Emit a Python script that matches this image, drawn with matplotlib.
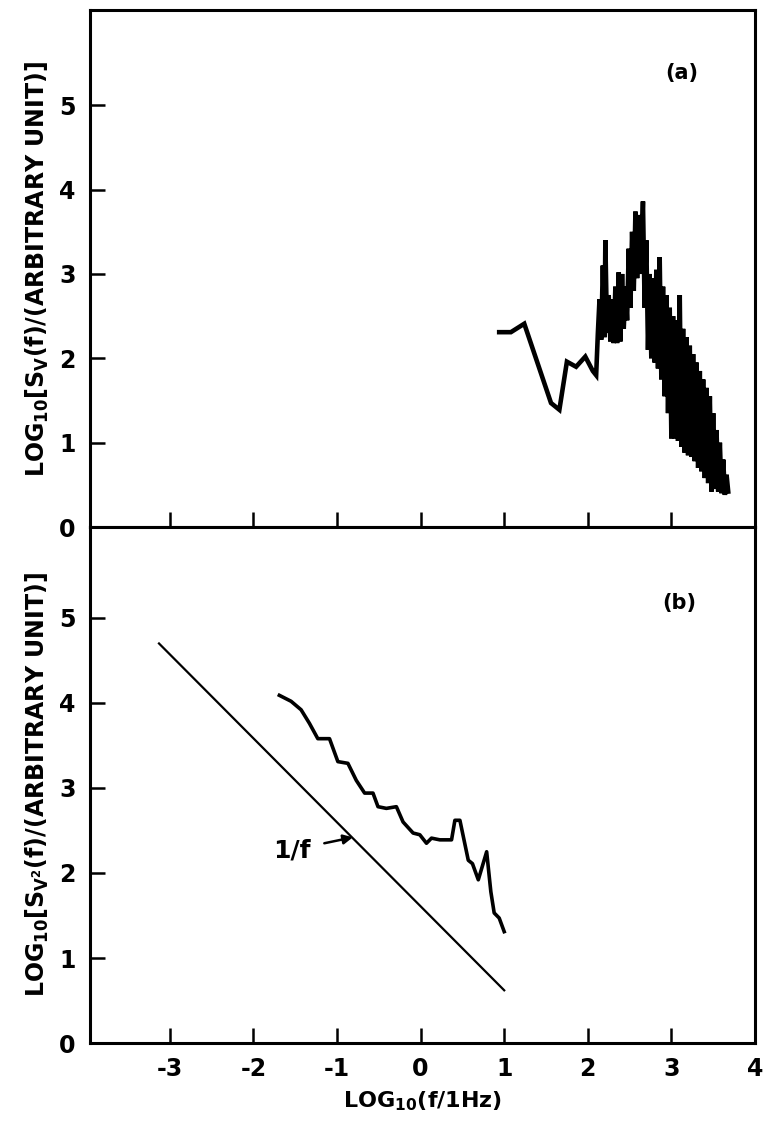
import matplotlib
matplotlib.use('Agg')
import matplotlib.pyplot as plt

# panel (a): S_V(f)
xa = [0.94, 1.08, 1.24, 1.56, 1.66, 1.75, 1.86, 1.97, 2.06, 2.10, 2.12,
      2.14, 2.16, 2.18, 2.20, 2.21, 2.23, 2.25, 2.27, 2.29, 2.31, 2.33,
      2.35, 2.37, 2.39, 2.41, 2.43, 2.45, 2.47, 2.49, 2.51, 2.53, 2.55,
      2.57, 2.59, 2.61, 2.63, 2.66, 2.68, 2.70, 2.72, 2.74, 2.76, 2.78,
      2.80, 2.82, 2.84, 2.86, 2.88, 2.90, 2.92, 2.94, 2.96, 2.98, 3.00,
      3.02, 3.04, 3.06, 3.08, 3.10, 3.12, 3.14, 3.16, 3.18, 3.20, 3.22,
      3.24, 3.26, 3.28, 3.30, 3.32, 3.34, 3.36, 3.38, 3.40, 3.42, 3.44,
      3.46, 3.48, 3.50, 3.52, 3.54, 3.56, 3.58, 3.60, 3.62, 3.64, 3.66,
      3.68]
ya = [2.31, 2.31, 2.41, 1.47, 1.39, 1.96, 1.90, 2.02, 1.85, 1.80, 2.29,
      2.70, 2.22, 3.10, 2.25, 3.40, 2.30, 2.75, 2.20, 2.70, 2.18, 2.85,
      2.18, 3.02, 2.20, 3.00, 2.35, 2.85, 2.45, 3.30, 2.60, 3.50, 2.80,
      3.74, 2.95, 3.70, 3.00, 3.86, 2.60, 3.40, 2.10, 3.00, 2.00, 2.95,
      1.95, 3.05, 1.88, 3.20, 1.75, 2.85, 1.55, 2.75, 1.35, 2.60, 1.05,
      2.50, 1.05, 2.45, 1.02, 2.75, 0.95, 2.35, 0.88, 2.25, 0.85, 2.15,
      0.83, 2.05, 0.78, 1.95, 0.70, 1.85, 0.66, 1.75, 0.58, 1.65, 0.52,
      1.55, 0.42, 1.35, 0.45, 1.15, 0.42, 1.00, 0.40, 0.80, 0.38, 0.62,
      0.42]

# panel (b): S_V2(f)
xb = [-1.69, -1.55, -1.43, -1.33, -1.23, -1.09, -0.99, -0.87, -0.77, -0.67,
      -0.57, -0.51, -0.41, -0.29, -0.21, -0.09, -0.01, 0.07, 0.13, 0.23,
      0.37, 0.41, 0.47, 0.57, 0.62, 0.69, 0.79, 0.84, 0.88, 0.94, 1.00]
yb = [4.09, 4.02, 3.92, 3.76, 3.58, 3.58, 3.31, 3.29, 3.09, 2.94,
      2.94, 2.78, 2.76, 2.78, 2.60, 2.47, 2.45, 2.35, 2.41, 2.39,
      2.39, 2.62, 2.62, 2.15, 2.11, 1.92, 2.25, 1.78, 1.53, 1.47, 1.31]

# 1/f reference line
x_ref = [-3.13, 1.0]
y_ref = [4.70, 0.62]

xticks = [-3, -2, -1, 0, 1, 2, 3, 4]
yticks = [0, 1, 2, 3, 4, 5]

plt.rcParams['font.family'] = 'DejaVu Sans'
plt.rcParams['font.weight'] = 'bold'
plt.rcParams['axes.labelweight'] = 'bold'
plt.rcParams['mathtext.default'] = 'bf'
plt.rcParams['axes.unicode_minus'] = False

fig = plt.figure(figsize=(7.66, 11.22), dpi=100)
ax1 = fig.add_axes([0.117, 0.5303, 0.8686, 0.4608])
ax2 = fig.add_axes([0.117, 0.0704, 0.8686, 0.4599])

for ax in (ax1, ax2):
    ax.set_xlim(-3.96, 4)
    ax.set_xticks(xticks)
    ax.set_yticks(yticks)
    ax.tick_params(direction='in', length=11, width=1.8, labelsize=17, pad=10)
    for sp in ax.spines.values():
        sp.set_linewidth(2.2)

ax1.set_ylim(0, 6.13)
ax2.set_ylim(0, 6.07)
ax1.tick_params(labelbottom=False)

ax1.plot(xa, ya, color='black', lw=3.3, solid_joinstyle='miter')
ax2.plot(xb, yb, color='black', lw=2.6)
ax2.plot(x_ref, y_ref, color='black', lw=1.6)

ax1.text(3.12, 5.38, '(a)', fontsize=15, ha='center', va='center')
ax2.text(3.09, 5.18, '(b)', fontsize=15, ha='center', va='center')

ax2.annotate('1/f', xy=(-0.81, 2.42), xytext=(-1.54, 2.27),
             fontsize=18, ha='center', va='center',
             arrowprops=dict(arrowstyle='-|>', color='black', lw=1.8,
                             shrinkA=8, shrinkB=0, mutation_scale=14))

ax1.set_ylabel(r'LOG$_{10}$[S$_{V}$(f)/(ARBITRARY UNIT)]', fontsize=17,
               labelpad=6)
ax2.set_ylabel(r'LOG$_{10}$[S$_{V^2}$(f)/(ARBITRARY UNIT)]', fontsize=17,
               labelpad=6)
ax2.set_xlabel(r'LOG$_{10}$(f/1Hz)', fontsize=16, labelpad=6)

fig.savefig('out.png', dpi=100)
